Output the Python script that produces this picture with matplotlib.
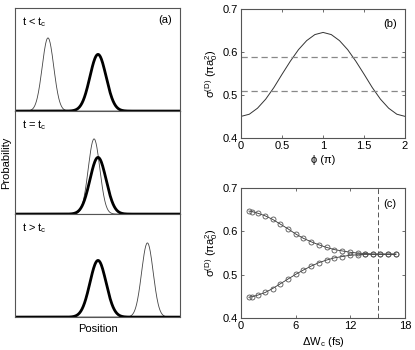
import numpy as np
import matplotlib
matplotlib.use("Agg")
from matplotlib import pyplot as plt

plt.rcParams['font.family'] = ['Liberation Sans', 'DejaVu Sans']
plt.rcParams['mathtext.fontset'] = 'custom'
plt.rcParams['mathtext.rm'] = 'Liberation Sans'
plt.rcParams['mathtext.it'] = 'Liberation Sans'
plt.rcParams['font.size'] = 8

# panel (a): wave packets (center, width, height) for thin and thick peaks
stage_labels = ['t < t$_\\mathrm{c}$', 't = t$_\\mathrm{c}$', 't > t$_\\mathrm{c}$']
thin_center = [0.20, 0.479, 0.802]
thin_width = [0.035, 0.035, 0.035]
thin_height = [0.71, 0.73, 0.72]
thick_center = [0.503, 0.503, 0.503]
thick_width = [0.049, 0.049, 0.049]
thick_height = [0.55, 0.55, 0.55]

# panel (b)
phi = [0.0, 0.1, 0.2, 0.3, 0.4, 0.5, 0.6, 0.7, 0.8, 0.9, 1.0,
       1.1, 1.2, 1.3, 1.4, 1.5, 1.6, 1.7, 1.8, 1.9, 2.0]
sigma_phi = [0.450, 0.455, 0.469, 0.490, 0.517, 0.548, 0.578, 0.605, 0.626, 0.640, 0.645,
             0.640, 0.626, 0.605, 0.578, 0.548, 0.517, 0.490, 0.469, 0.455, 0.450]
dash_levels = [0.587, 0.510]

# panel (c)
dwc = [0.85, 1.2, 1.85, 2.65, 3.45, 4.3, 5.15, 6.0, 6.85, 7.7, 8.55, 9.4,
       10.25, 11.1, 11.95, 12.8, 13.6, 14.45, 15.3, 16.15, 17.0]
sigma_upper = [0.647, 0.646, 0.642, 0.636, 0.628, 0.617, 0.606, 0.594, 0.584, 0.576, 0.569,
               0.563, 0.558, 0.555, 0.552, 0.550, 0.549, 0.548, 0.548, 0.548, 0.548]
sigma_lower = [0.448, 0.449, 0.453, 0.459, 0.468, 0.479, 0.490, 0.501, 0.511, 0.520, 0.528,
               0.534, 0.539, 0.542, 0.545, 0.546, 0.547, 0.547, 0.547, 0.547, 0.547]
dwc_mark = 15.0

spine_col = '#555555'
line_col = '#333333'

def style(ax):
    for s in ax.spines.values():
        s.set_color(spine_col)
        s.set_linewidth(0.8)
    ax.tick_params(direction='in', length=2.5, width=0.6, color=spine_col,
                   top=True, right=True, labelsize=8, pad=2)

fig = plt.figure(figsize=(4.15, 3.5), dpi=100)

# (a)
xs = np.linspace(0, 1, 400)
left, width = 0.036, 0.398
top, bottom = 0.977, 0.094
h = (top - bottom) / 3
a_axes = []
for i in range(3):
    ax = fig.add_axes([left, top - (i + 1) * h, width, h])
    thin = thin_height[i] * np.exp(-0.5 * ((xs - thin_center[i]) / thin_width[i]) ** 2)
    thick = thick_height[i] * np.exp(-0.5 * ((xs - thick_center[i]) / thick_width[i]) ** 2)
    ax.plot(xs, thin, color='#444444', lw=0.6)
    ax.plot(xs, thick, color='black', lw=2.0)
    ax.set_xlim(0, 1)
    ax.set_ylim(0, 1)
    ax.set_xticks([])
    ax.set_yticks([])
    for s in ax.spines.values():
        s.set_color(spine_col)
        s.set_linewidth(0.8)
    ax.text(0.04, 0.93, stage_labels[i], transform=ax.transAxes, ha='left', va='top', fontsize=8)
    a_axes.append(ax)
a_axes[0].text(0.95, 0.93, '(a)', transform=a_axes[0].transAxes, ha='right', va='top', fontsize=8)
a_axes[1].set_ylabel('Probability', labelpad=3)
a_axes[2].set_xlabel('Position', labelpad=5)

# (b)
axb = fig.add_axes([0.581, 0.606, 0.395, 0.369])
axb.plot(phi, sigma_phi, color=line_col, lw=0.7)
for lv in dash_levels:
    axb.axhline(lv, color='#888888', lw=0.9, ls=(0, (5, 3)))
axb.set_xlim(0, 2)
axb.set_ylim(0.4, 0.7)
axb.set_xticks([0, 0.5, 1, 1.5, 2])
axb.set_xticklabels(['0', '0.5', '1', '1.5', '2'])
axb.set_yticks([0.4, 0.5, 0.6, 0.7])
axb.set_xlabel('\u03d5 (\u03c0)', labelpad=3)
axb.set_ylabel('\u03c3$^{(D)}$ (\u03c0a$_0^2$)', labelpad=2)
axb.text(0.95, 0.92, '(b)', transform=axb.transAxes, ha='right', va='top', fontsize=8)
style(axb)

# (c)
axc = fig.add_axes([0.581, 0.0914, 0.395, 0.371])
for ser in (sigma_upper, sigma_lower):
    axc.plot(dwc, ser, color=line_col, lw=0.6, marker='o', ms=3.6,
             mfc='none', mec='#555555', mew=0.6)
axc.axvline(dwc_mark, color='#555555', lw=0.7, ls=(0, (5, 3)))
axc.set_xlim(0, 18)
axc.set_ylim(0.4, 0.7)
axc.set_xticks([0, 6, 12, 18])
axc.set_yticks([0.4, 0.5, 0.6, 0.7])
axc.set_xlabel('\u0394W$_\\mathrm{c}$ (fs)', labelpad=3)
axc.set_ylabel('\u03c3$^{(D)}$ (\u03c0a$_0^2$)', labelpad=2)
axc.text(0.95, 0.92, '(c)', transform=axc.transAxes, ha='right', va='top', fontsize=8)
style(axc)

fig.savefig('out.png', dpi=100)
